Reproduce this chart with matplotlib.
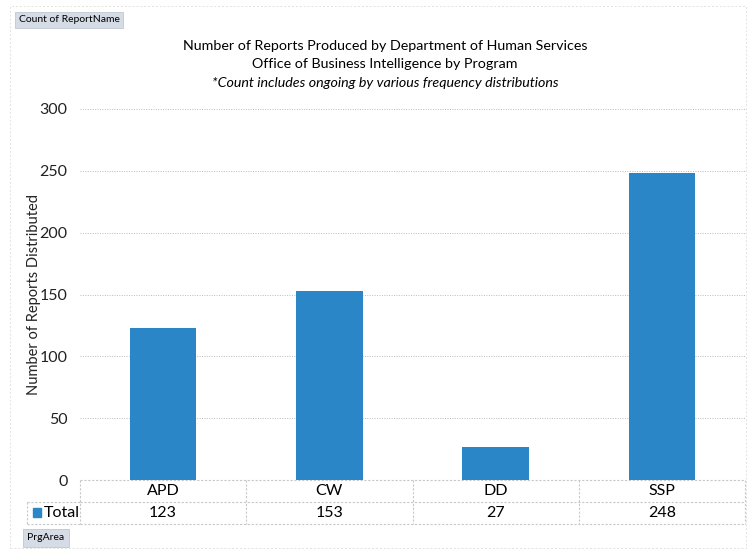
import matplotlib.pyplot as plt
import matplotlib.transforms as mtransforms
from matplotlib.patches import Rectangle
import numpy as np

plt.rcParams['font.family'] = ['Lato', 'DejaVu Sans']

# Dados
programas = ["APD", "CW", "DD", "SSP"]
totais = [123, 153, 27, 248]
serie = "Total"
titulo = ["Number of Reports Produced by Department of Human Services",
          "Office of Business Intelligence by Program"]
nota = "*Count includes ongoing by various frequency distributions"

azul = "#2B86C8"
cinza = "#C8C8C8"

fig = plt.figure(figsize=(7.5, 5.52), dpi=100)
ax = fig.add_axes([80/750, 1 - 480/552, 665/750, 371/552])

x = np.arange(len(programas))
ax.bar(x, totais, 0.4, color=azul, zorder=3)
ax.set_xlim(-0.5, len(programas) - 0.5)
ax.set_ylim(0, 300)
ax.set_yticks(range(0, 301, 50))
ax.tick_params(axis='y', length=0, pad=9, labelsize=11.5, colors='#222222')
ax.set_xticks([])
for s in ax.spines.values():
    s.set_visible(False)
ax.grid(axis='y', linestyle=(0, (1, 1.5)), color='#BBBBBB', linewidth=0.7, zorder=0)
ax.set_ylabel("Number of Reports Distributed", fontsize=10.5, color='#222222')
ax.yaxis.set_label_coords((41 - 80)/665, 0.5)

# --- Tabela de dados abaixo do eixo ---
trans = mtransforms.blended_transform_factory(ax.transData, ax.transAxes)
h1 = -22/371
h2 = -44/371
for i, (p, v) in enumerate(zip(programas, totais)):
    ax.text(i, h1/2, p, transform=trans, ha='center', va='center', fontsize=11.5, clip_on=False)
    ax.text(i, (h1 + h2)/2, str(v), transform=trans, ha='center', va='center', fontsize=11.5, clip_on=False)

ls = dict(color=cinza, linewidth=0.8, linestyle=(0, (2, 1.5)), transform=trans, clip_on=False)
ax.plot([-0.5, 3.5], [0, 0], **ls)
ax.plot([-0.5, 3.5], [h1, h1], **ls)
ax.plot([-0.5, 3.5], [h2, h2], **ls)
for xi in np.arange(-0.5, 4.0, 1.0):
    ax.plot([xi, xi], [0, h2], **ls)

# parte da legenda (Total) à esquerda
fl = dict(color=cinza, linewidth=0.8, linestyle=(0, (2, 1.5)))
fig.add_artist(plt.Line2D([27/750, 80/750], [1 - 502/552, 1 - 502/552], **fl))
fig.add_artist(plt.Line2D([27/750, 80/750], [1 - 524/552, 1 - 524/552], **fl))
fig.add_artist(plt.Line2D([27/750, 27/750], [1 - 502/552, 1 - 524/552], **fl))
fig.add_artist(Rectangle((33/750, 1 - 517/552), 8/750, 9/552, color=azul))
fig.text(44/750, 1 - 513/552, serie, ha='left', va='center', fontsize=11.5)

# Títulos
fig.text(385/750, 1 - 46/552, titulo[0], ha='center', va='center', fontsize=10.3)
fig.text(385/750, 1 - 64/552, titulo[1], ha='center', va='center', fontsize=10.3)
fig.text(385/750, 1 - 83/552, nota, ha='center', va='center', fontsize=10.3, style='italic')

# Borda externa
fig.add_artist(Rectangle((10/750, 1 - 548/552), 736/750, 542/552, fill=False,
                         edgecolor='#E2E2E2', linewidth=0.7, linestyle=(0, (2, 2))))

# Botões de campo
fig.text(69/750, 1 - 20/552, "Count of ReportName", ha='center', va='center', fontsize=7.5,
         bbox=dict(boxstyle='square,pad=0.35', facecolor='#D5DCE6', edgecolor='#B8C0CC', linewidth=0.5))
fig.text(46/750, 1 - 538/552, "PrgArea", ha='center', va='center', fontsize=7.5,
         bbox=dict(boxstyle='square,pad=0.4', facecolor='#D5DCE6', edgecolor='#B8C0CC', linewidth=0.5))

fig.savefig("out.png", dpi=100)
